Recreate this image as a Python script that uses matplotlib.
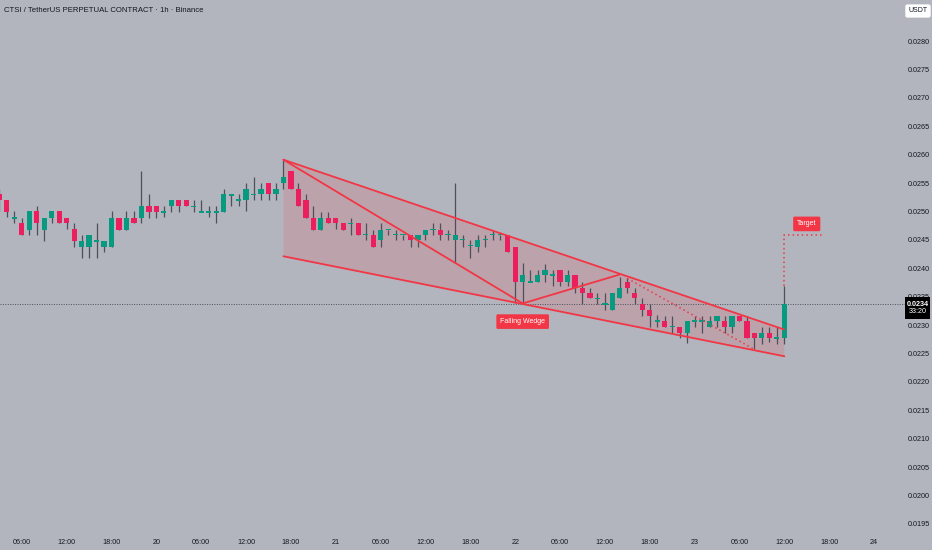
import numpy as np
import matplotlib.pyplot as plt
from matplotlib.patches import Rectangle, Polygon
from matplotlib.transforms import blended_transform_factory

plt.rcParams['font.family'] = ['Liberation Sans', 'DejaVu Sans']

# hours counted from 20 00:00 (1h candles)
hours = np.arange(-21, 85)
opens = [0.02530, 0.02520, 0.02488, 0.02479, 0.02468, 0.02500, 0.02468, 0.02489, 0.02500, 0.02489,
         0.02469, 0.02438, 0.02438, 0.02448, 0.02438, 0.02438, 0.02489, 0.02468, 0.02489, 0.02489,
         0.02509, 0.02509,
         0.02499, 0.02509, 0.02520, 0.02520, 0.02509, 0.02499, 0.02499, 0.02499, 0.02499, 0.02528,
         0.02520, 0.02520, 0.02530, 0.02530, 0.02550, 0.02530, 0.02550, 0.02571, 0.02540, 0.02520,
         0.02489, 0.02468, 0.02489, 0.02489, 0.02479, 0.02479, 0.02479, 0.02459, 0.02459, 0.02450,
         0.02468, 0.02459, 0.02459, 0.02459, 0.02450, 0.02459, 0.02468, 0.02468, 0.02459, 0.02450,
         0.02450, 0.02440, 0.02438, 0.02450, 0.02459, 0.02459, 0.02459, 0.02438, 0.02376, 0.02376,
         0.02376, 0.02388, 0.02388, 0.02397, 0.02376, 0.02388, 0.02366, 0.02357, 0.02347, 0.02337,
         0.02327, 0.02347, 0.02376, 0.02357, 0.02337, 0.02327, 0.02307, 0.02307, 0.02297, 0.02297,
         0.02286, 0.02307, 0.02307, 0.02297, 0.02307, 0.02307, 0.02297, 0.02316, 0.02307, 0.02286,
         0.02277, 0.02286, 0.02277, 0.02277]
highs = [0.02540, 0.02520, 0.02500, 0.02489, 0.02500, 0.02509, 0.02489, 0.02500, 0.02500, 0.02489,
         0.02479, 0.02459, 0.02459, 0.02480, 0.02448, 0.02500, 0.02489, 0.02500, 0.02500, 0.02571,
         0.02530, 0.02509,
         0.02509, 0.02520, 0.02520, 0.02520, 0.02520, 0.02520, 0.02509, 0.02509, 0.02540, 0.02530,
         0.02530, 0.02550, 0.02560, 0.02550, 0.02550, 0.02550, 0.02591, 0.02571, 0.02550, 0.02530,
         0.02509, 0.02499, 0.02499, 0.02489, 0.02479, 0.02489, 0.02479, 0.02479, 0.02468, 0.02479,
         0.02468, 0.02468, 0.02459, 0.02459, 0.02459, 0.02468, 0.02479, 0.02479, 0.02468, 0.02550,
         0.02459, 0.02450, 0.02459, 0.02459, 0.02468, 0.02459, 0.02459, 0.02438, 0.02409, 0.02397,
         0.02397, 0.02408, 0.02397, 0.02397, 0.02397, 0.02388, 0.02376, 0.02366, 0.02357, 0.02357,
         0.02357, 0.02385, 0.02382, 0.02366, 0.02347, 0.02337, 0.02318, 0.02316, 0.02316, 0.02297,
         0.02307, 0.02316, 0.02316, 0.02316, 0.02316, 0.02316, 0.02316, 0.02316, 0.02316, 0.02286,
         0.02297, 0.02297, 0.02297, 0.02368]
lows = [0.02500, 0.02490, 0.02480, 0.02459, 0.02459, 0.02459, 0.02448, 0.02479, 0.02479, 0.02469,
        0.02438, 0.02418, 0.02418, 0.02418, 0.02429, 0.02438, 0.02468, 0.02468, 0.02479, 0.02479,
        0.02489, 0.02489,
        0.02490, 0.02499, 0.02499, 0.02509, 0.02499, 0.02499, 0.02490, 0.02480, 0.02499, 0.02509,
        0.02509, 0.02500, 0.02520, 0.02520, 0.02520, 0.02520, 0.02540, 0.02540, 0.02509, 0.02489,
        0.02468, 0.02468, 0.02479, 0.02469, 0.02468, 0.02459, 0.02459, 0.02450, 0.02438, 0.02438,
        0.02459, 0.02450, 0.02450, 0.02438, 0.02438, 0.02450, 0.02459, 0.02450, 0.02450, 0.02409,
        0.02438, 0.02418, 0.02429, 0.02438, 0.02450, 0.02450, 0.02429, 0.02338, 0.02338, 0.02376,
        0.02376, 0.02376, 0.02368, 0.02368, 0.02368, 0.02357, 0.02337, 0.02347, 0.02337, 0.02327,
        0.02327, 0.02347, 0.02357, 0.02337, 0.02316, 0.02297, 0.02297, 0.02297, 0.02286, 0.02277,
        0.02268, 0.02297, 0.02286, 0.02297, 0.02297, 0.02286, 0.02286, 0.02307, 0.02277, 0.02257,
        0.02267, 0.02270, 0.02267, 0.02267]
closes = [0.02520, 0.02499, 0.02489, 0.02459, 0.02500, 0.02479, 0.02489, 0.02500, 0.02479, 0.02479,
          0.02448, 0.02448, 0.02459, 0.02448, 0.02448, 0.02489, 0.02468, 0.02489, 0.02479, 0.02509,
          0.02499, 0.02499,
          0.02499, 0.02520, 0.02509, 0.02509, 0.02509, 0.02499, 0.02499, 0.02499, 0.02530, 0.02530,
          0.02520, 0.02540, 0.02530, 0.02540, 0.02530, 0.02540, 0.02560, 0.02540, 0.02509, 0.02489,
          0.02468, 0.02489, 0.02479, 0.02479, 0.02468, 0.02479, 0.02459, 0.02459, 0.02438, 0.02468,
          0.02468, 0.02459, 0.02459, 0.02450, 0.02459, 0.02468, 0.02468, 0.02459, 0.02459, 0.02459,
          0.02450, 0.02440, 0.02450, 0.02450, 0.02459, 0.02459, 0.02429, 0.02376, 0.02388, 0.02376,
          0.02388, 0.02397, 0.02388, 0.02376, 0.02388, 0.02366, 0.02357, 0.02347, 0.02347, 0.02337,
          0.02357, 0.02366, 0.02366, 0.02347, 0.02327, 0.02316, 0.02307, 0.02297, 0.02297, 0.02286,
          0.02307, 0.02307, 0.02307, 0.02307, 0.02316, 0.02297, 0.02316, 0.02307, 0.02277, 0.02277,
          0.02286, 0.02277, 0.02277, 0.02337]

# pattern drawing (hour, price)
wedge_upper = [(17, 0.02591), (84, 0.02292)]
wedge_lower = [(17, 0.02421), (84, 0.02245)]
zigzag = [(17, 0.02591), (49, 0.02338), (62, 0.02389)]
dotted_leg = [(63, 0.02382), (80, 0.02257)]
target_path = [(84, 0.02368), (84, 0.02459), (89, 0.02459)]
wedge_label = (49, 0.02306)
target_label = (87, 0.02478)

xtick_hours = np.arange(-18, 97, 6)
xtick_labels = ['06:00', '12:00', '18:00', '20', '06:00', '12:00', '18:00', '21',
                '06:00', '12:00', '18:00', '22', '06:00', '12:00', '18:00', '23',
                '06:00', '12:00', '18:00', '24']
ytick_prices = np.arange(0.0195, 0.02801, 0.0005)

bg = '#b2b5be'
green, red = '#089981', '#eb1f5e'
line_red = '#f23645'
wick_c = '#4d505a'
txt = '#131722'

fig = plt.figure(figsize=(9.32, 5.5), dpi=100, facecolor=bg)
ax = fig.add_axes([0, 18 / 550, 893 / 932, 532 / 550], facecolor=bg)
ax.set_xlim(-20.92, 98.54)
ax.set_ylim(0.019356, 0.028722)
for s in ax.spines.values():
    s.set_visible(False)

# wedge fill + lines
(u0, u1), (l0, l1) = wedge_upper, wedge_lower
ax.add_patch(Polygon([u0, u1, l1, l0], closed=True, facecolor=line_red,
                     alpha=0.15, edgecolor='none', zorder=1))
for seg in (wedge_upper, wedge_lower, zigzag):
    xs, ys = zip(*seg)
    ax.plot(xs, ys, color=line_red, lw=1.3, zorder=4, solid_capstyle='round')
xs, ys = zip(*dotted_leg)
ax.plot(xs, ys, color=line_red, lw=1.1, ls=(0, (1, 2)), zorder=4)
xs, ys = zip(*target_path)
ax.plot(xs, ys, color=line_red, lw=1.1, ls=(0, (1, 2)), zorder=4)

# candles
bw = 0.7
min_h = 0.000024
for h, o, hi, lo, c in zip(hours, opens, highs, lows, closes):
    col = green if c >= o else red
    ax.vlines(h, lo, hi, color=wick_c, lw=0.9, zorder=2)
    bot = min(o, c)
    ht = abs(c - o)
    if ht < min_h:
        bot = (o + c) / 2 - min_h / 2
        ht = min_h
    ax.add_patch(Rectangle((h - bw / 2, bot), bw, ht, facecolor=col,
                           edgecolor='none', zorder=3))

# last price line, runs into the price scale
trans = blended_transform_factory(ax.transAxes, ax.transData)
last = closes[-1]
ax.plot([0, 1.0135], [last, last], transform=trans, color='#4d505a', lw=0.7,
        ls=(0, (1, 1.5)), zorder=1.5, clip_on=False)

# labels
ax.text(*wedge_label, 'Falling Wedge', fontsize=5, color='white', ha='center', va='center',
        zorder=6, bbox=dict(boxstyle='round,pad=0.55,rounding_size=0.2', fc=line_red, ec='none'))
ax.text(*target_label, 'Target', fontsize=5, color='white', ha='center', va='center',
        zorder=6, bbox=dict(boxstyle='round,pad=0.55,rounding_size=0.2', fc=line_red, ec='none'))

# axes ticks
ax.set_xticks(xtick_hours)
ax.set_xticklabels(xtick_labels)
ax.yaxis.tick_right()
ax.set_yticks(ytick_prices)
ax.set_yticklabels([f'{p:.4f}' for p in ytick_prices])
ax.tick_params(axis='x', length=0, pad=5, labelsize=5.2, labelcolor=txt)
ax.tick_params(axis='y', length=0, pad=10.5, labelsize=5.2, labelcolor=txt)

# price tag on the scale
ax.add_patch(Rectangle((1.0135, last - 0.00027), 0.028, 0.00040, transform=trans,
                       facecolor='black', edgecolor='none', clip_on=False, zorder=10))
ax.text(1.0275, last, f'{last:.4f}', transform=trans, fontsize=5.2, color='white',
        fontweight='bold', ha='center', va='center', zorder=11, clip_on=False)
ax.text(1.0275, last - 0.00014, '33:20', transform=trans, fontsize=5.2, color='white',
        ha='center', va='center', zorder=11, clip_on=False)

fig.text(4 / 932, 1 - 10 / 550, 'CTSI / TetherUS PERPETUAL CONTRACT · 1h · Binance',
         fontsize=5.6, color=txt, ha='left', va='center')
fig.text(918 / 932, 1 - 11 / 550, 'USDT', fontsize=5, color=txt, ha='center', va='center',
         bbox=dict(boxstyle='round,pad=0.45,rounding_size=0.3', fc='white', ec='none'))

fig.savefig('out.png', dpi=100, facecolor=bg)
